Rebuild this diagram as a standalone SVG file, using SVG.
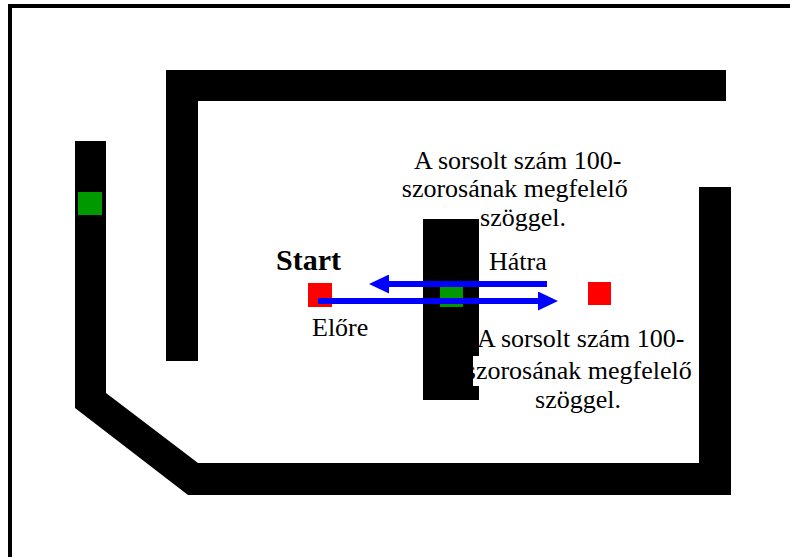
<svg xmlns="http://www.w3.org/2000/svg" width="790" height="557" viewBox="0 0 790 557">
  <style>
    .wall { fill: #000; }
    .tile-green { fill: #009900; }
    .tile-red { fill: #ff0000; }
    .label { font-family: "Liberation Serif", "Times New Roman", serif; font-size: 26px; fill: #000; }
    .bold { font-weight: bold; font-size: 30px; }
    .move { stroke: #0000ff; stroke-width: 6; fill: none; }
  </style>
  <defs>
    <marker id="head" viewBox="0 0 20 19" markerWidth="20" markerHeight="19" markerUnits="userSpaceOnUse" refX="0" refY="9.5" orient="auto">
      <path d="M0,0 L20,9.5 L0,19 z" fill="#0000ff"/>
    </marker>
  </defs>

  <rect x="0" y="0" width="790" height="557" fill="#fff"/>
  <!-- page frame (continues past the right and bottom edges) -->
  <rect x="10" y="6" width="800" height="600" fill="none" stroke="#000" stroke-width="4"/>

  <!-- track walls -->
  <g id="wall-top">
    <polygon class="wall" points="166,70 726,70 726,101 198,101 198,361 166,361"/>
  </g>
  <g id="wall-outer">
    <polygon class="wall" points="75,141 106,141 106,393 198,463 699,463 699,187 731,187 731,495 188,495 75,408"/>
  </g>
  <g id="block-center">
    <rect class="wall" x="423" y="219" width="56" height="181"/>
  </g>

  <!-- markers on the track -->
  <g id="tile-left-green"><rect class="tile-green" x="78" y="192" width="24" height="23"/></g>
  <g id="tile-center-green"><rect class="tile-green" x="440" y="287" width="23" height="20"/></g>
  <g id="tile-start"><rect class="tile-red" x="308" y="283" width="24" height="24"/></g>
  <g id="tile-end"><rect class="tile-red" x="588" y="282" width="23" height="23"/></g>

  <!-- movement arrows -->
  <g id="connectors">
    <line class="move" x1="547" y1="284" x2="389" y2="284" marker-end="url(#head)"/>
    <line class="move" x1="318" y1="301" x2="538" y2="301" marker-end="url(#head)"/>
  </g>

  <!-- labels -->
  <g id="label-start"><text class="label bold" x="276" y="270">Start</text></g>
  <g id="label-hatra"><text class="label" x="489" y="270">Hátra</text></g>
  <g id="label-elore"><text class="label" x="312" y="336">Előre</text></g>
  <g id="note-upper">
    <text class="label" text-anchor="middle">
      <tspan x="521" y="169">A sorsolt szám 100-</tspan>
      <tspan x="518" y="197">szorosának megfelelő</tspan>
      <tspan x="523" y="226">szöggel.</tspan>
    </text>
  </g>
  <g id="note-lower">
    <!-- white text backing where the note overlaps the centre block -->
    <rect x="473" y="356" width="6" height="30" fill="#fff"/>
    <text class="label" text-anchor="middle">
      <tspan x="584" y="347">A sorsolt szám 100-</tspan>
      <tspan x="582" y="379">szorosának megfelelő</tspan>
      <tspan x="578" y="408">szöggel.</tspan>
    </text>
  </g>
</svg>
